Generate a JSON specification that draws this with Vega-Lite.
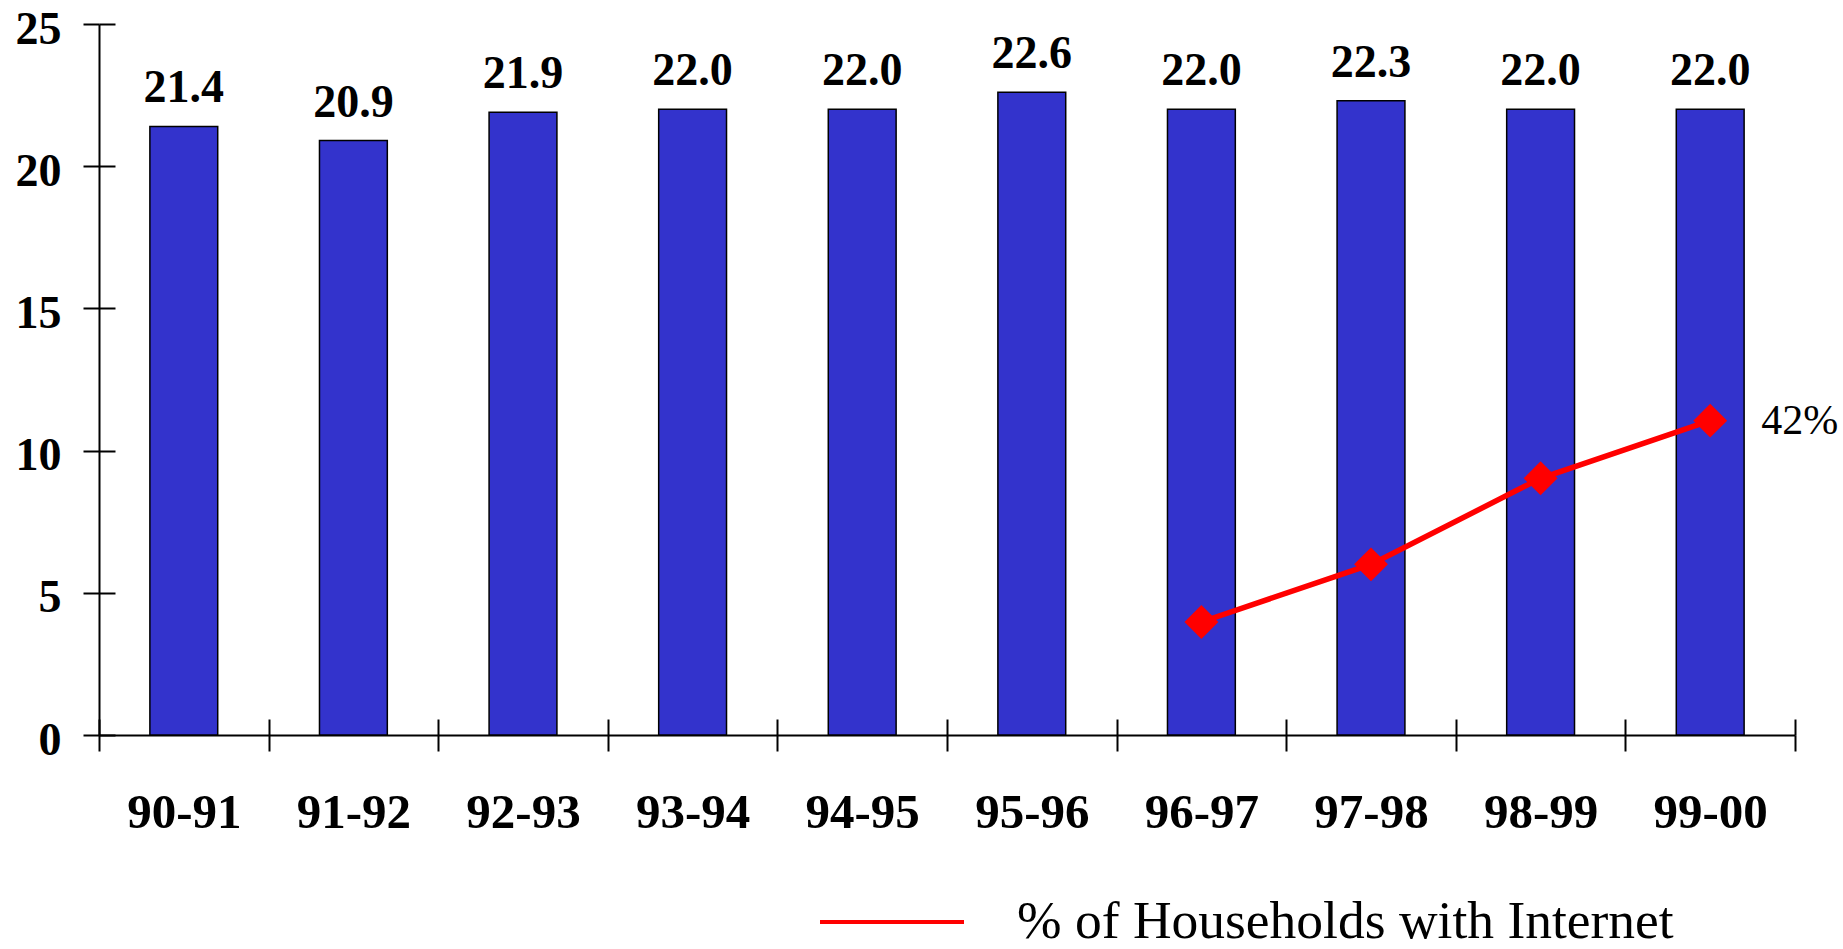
{
  "$schema": "https://vega.github.io/schema/vega-lite/v6.json",
  "width": 1696,
  "height": 711,
  "autosize": {"type": "none"},
  "padding": {"left": 99, "top": 24, "right": 48, "bottom": 214},
  "background": "white",
  "config": {"view": {"stroke": null}, "font": "Liberation Serif"},
  "datasets": {
    "enroll": [
      {"year": "90-91", "value": 21.4},
      {"year": "91-92", "value": 20.9},
      {"year": "92-93", "value": 21.9},
      {"year": "93-94", "value": 22.0},
      {"year": "94-95", "value": 22.0},
      {"year": "95-96", "value": 22.6},
      {"year": "96-97", "value": 22.0},
      {"year": "97-98", "value": 22.3},
      {"year": "98-99", "value": 22.0},
      {"year": "99-00", "value": 22.0}
    ],
    "internet": [
      {"year": "96-97", "pct": 0.151, "series": "% of Households with Internet"},
      {"year": "97-98", "pct": 0.228, "series": "% of Households with Internet"},
      {"year": "98-99", "pct": 0.343, "series": "% of Households with Internet"},
      {"year": "99-00", "pct": 0.42, "series": "% of Households with Internet"}
    ]
  },
  "layer": [
    {
      "data": {"name": "enroll"},
      "mark": {"type": "bar", "fill": "#3333CC", "stroke": "#000000", "strokeWidth": 1.5, "width": {"band": 0.4}},
      "encoding": {
        "x": {
          "field": "year", "type": "ordinal", "sort": null,
          "scale": {"paddingInner": 0, "paddingOuter": 0},
          "axis": {
            "orient": "bottom", "tickBand": "extent", "tickSize": 16, "tickWidth": 2,
            "tickColor": "#000000", "domainColor": "#000000", "domainWidth": 2,
            "labelFont": "Liberation Serif", "labelFontWeight": "bold", "labelFontSize": 49,
            "labelColor": "#000000", "labelPadding": 76, "labelBaseline": "alphabetic",
            "labelAngle": 0, "title": null, "grid": false
          }
        },
        "y": {
          "field": "value", "type": "quantitative",
          "scale": {"domain": [0, 25], "nice": false},
          "axis": {
            "orient": "left", "values": [0, 5, 10, 15, 20, 25], "tickSize": 16, "tickWidth": 2,
            "tickColor": "#000000", "domainColor": "#000000", "domainWidth": 2,
            "labelFont": "Liberation Serif", "labelFontWeight": "bold", "labelFontSize": 46,
            "labelColor": "#000000", "labelPadding": 22, "labelBaseline": "alphabetic",
            "labelOffset": 19, "labelAlign": "right", "grid": false, "title": null
          }
        }
      }
    },
    {
      "data": {"name": "enroll"},
      "mark": {"type": "text", "font": "Liberation Serif", "fontWeight": "bold", "fontSize": 46, "color": "#000000", "baseline": "alphabetic", "dy": -24},
      "encoding": {
        "x": {
          "field": "year", "type": "ordinal", "sort": null,
          "axis": {"orient": "bottom", "tickBand": "extent", "tickSize": -16, "tickWidth": 2, "tickColor": "#000000", "domain": false, "labels": false, "title": null, "grid": false}
        },
        "y": {
          "field": "value", "type": "quantitative",
          "scale": {"domain": [0, 25], "nice": false},
          "axis": {"orient": "left", "values": [0, 5, 10, 15, 20, 25], "tickSize": -16, "tickWidth": 2, "tickColor": "#000000", "domain": false, "labels": false, "title": null, "grid": false}
        },
        "text": {"field": "value", "type": "quantitative", "format": ".1f"}
      }
    },
    {
      "data": {"name": "internet"},
      "mark": {"type": "line", "strokeWidth": 5.5},
      "encoding": {
        "x": {"field": "year", "type": "ordinal", "sort": null, "axis": null},
        "y": {"field": "pct", "type": "quantitative", "scale": {"domain": [0, 0.95], "nice": false}, "axis": null},
        "color": {
          "field": "series", "type": "nominal",
          "scale": {"range": ["#FF0000"]},
          "legend": {
            "title": null, "orient": "none", "legendX": 719, "legendY": 824,
            "symbolType": "stroke", "symbolSize": 20736, "symbolStrokeWidth": 4,
            "symbolStrokeColor": "#FF0000", "padding": 0,
            "labelFont": "Liberation Serif", "labelFontSize": 53.5, "labelColor": "#000000",
            "labelOffset": 51, "labelLimit": 1000
          }
        }
      }
    },
    {
      "data": {"name": "internet"},
      "mark": {"type": "point", "filled": true, "opacity": 1, "color": "#FF0000", "size": 1150, "shape": "diamond"},
      "encoding": {
        "x": {"field": "year", "type": "ordinal", "sort": null, "axis": null},
        "y": {"field": "pct", "type": "quantitative", "scale": {"domain": [0, 0.95], "nice": false}, "axis": null}
      }
    },
    {
      "data": {"name": "internet"},
      "transform": [{"filter": "datum.year == '99-00'"}],
      "mark": {"type": "text", "font": "Liberation Serif", "fontSize": 42, "color": "#000000", "align": "left", "baseline": "middle", "dx": 51},
      "encoding": {
        "x": {"field": "year", "type": "ordinal", "sort": null, "axis": null},
        "y": {"field": "pct", "type": "quantitative", "scale": {"domain": [0, 0.95], "nice": false}, "axis": null},
        "text": {"field": "pct", "type": "quantitative", "format": ".0%"}
      }
    }
  ],
  "resolve": {"scale": {"y": "independent"}, "axis": {"x": "independent", "y": "independent"}}
}
